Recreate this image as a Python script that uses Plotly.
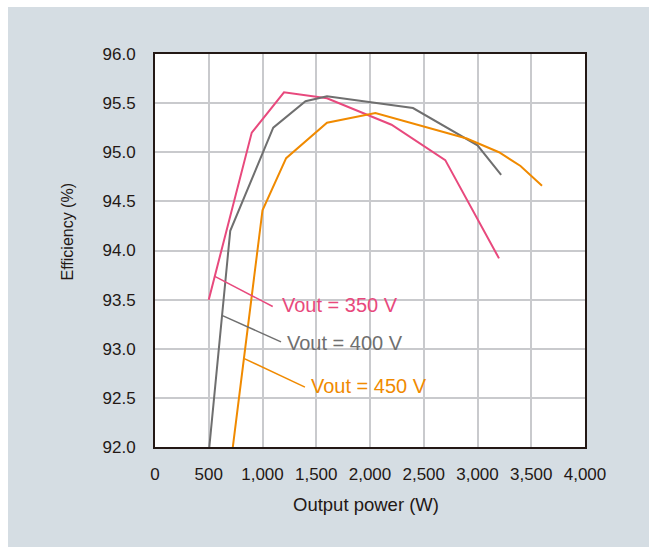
import plotly.graph_objects as go

# Data
x_350 = [500, 900, 1200, 1600, 2200, 2700, 3200]
y_350 = [93.5, 95.2, 95.61, 95.55, 95.28, 94.92, 93.92]

x_400 = [500, 700, 1100, 1400, 1600, 2400, 3000, 3220]
y_400 = [91.94, 94.2, 95.25, 95.52, 95.57, 95.45, 95.07, 94.77]

x_450 = [700, 1000, 1220, 1600, 2050, 2400, 2900, 3200, 3400, 3600]
y_450 = [91.79, 94.41, 94.94, 95.30, 95.40, 95.29, 95.14, 95.0, 94.86, 94.66]

series_names = ["Vout = 350 V", "Vout = 400 V", "Vout = 450 V"]
series_colors = ["#e8497d", "#6f6f6f", "#f08a00"]

# leader line endpoints (data units) and label anchors
leader_start = [(552, 93.74), (623, 93.34), (831, 92.90)]
leader_end = [(1095, 93.43), (1172, 93.07), (1395, 92.61)]
label_pos = [(1160, 93.445), (1212, 93.06), (1437, 92.62)]

x_ticks = [0, 500, 1000, 1500, 2000, 2500, 3000, 3500, 4000]
x_tick_text = ["0", "500", "1,000", "1,500", "2,000", "2,500", "3,000", "3,500", "4,000"]
y_ticks = [92.0, 92.5, 93.0, 93.5, 94.0, 94.5, 95.0, 95.5, 96.0]

FONT = "Liberation Sans, Arial, sans-serif"
TXT = "#231815"
BG = "#d5dde3"

fig = go.Figure()
for xs, ys, name, col in zip([x_350, x_400, x_450], [y_350, y_400, y_450], series_names, series_colors):
    fig.add_trace(go.Scatter(x=xs, y=ys, mode="lines", name=name,
                             line=dict(color=col, width=2), showlegend=False))

shapes = [
    dict(type="rect", xref="paper", yref="paper", x0=-1, x1=2, y0=(447 - 7) / 393, y1=2,
         fillcolor="white", line=dict(width=0), layer="below"),
    dict(type="rect", xref="paper", yref="paper", x0=-1, x1=(8 - 155) / 430, y0=-1, y1=2,
         fillcolor="white", line=dict(width=0), layer="below"),
]
for (x0, y0), (x1, y1), col in zip(leader_start, leader_end, series_colors):
    shapes.append(dict(type="line", xref="x", yref="y", x0=x0, y0=y0, x1=x1, y1=y1,
                       line=dict(color=col, width=1.5)))

annotations = []
for (lx, ly), name, col in zip(label_pos, series_names, series_colors):
    annotations.append(dict(x=lx, y=ly, xref="x", yref="y", text=name, showarrow=False,
                            xanchor="left", yanchor="middle",
                            font=dict(family=FONT, size=20, color=col)))
annotations.append(dict(x=(366 - 155) / 430, y=(447 - 505) / 393, xref="paper", yref="paper",
                        text="Output power (W)", showarrow=False, xanchor="center", yanchor="middle",
                        font=dict(family=FONT, size=18.5, color=TXT)))
annotations.append(dict(x=(67 - 155) / 430, y=(447 - 231.5) / 393, xref="paper", yref="paper",
                        text="Efficiency (%)", showarrow=False, textangle=-90,
                        xanchor="center", yanchor="middle",
                        font=dict(family=FONT, size=16, color=TXT)))

fig.update_layout(
    width=649, height=547,
    margin=dict(l=155, r=64, t=54, b=100),
    paper_bgcolor=BG, plot_bgcolor="white",
    font=dict(family=FONT, size=16, color=TXT),
    shapes=shapes, annotations=annotations,
    xaxis=dict(range=[0, 4000], tickvals=x_ticks, ticktext=x_tick_text,
               showgrid=True, gridcolor="#c9cacd", gridwidth=1.5,
               showline=True, linecolor=TXT, linewidth=2, mirror=True,
               ticks="", ticklabelstandoff=11, zeroline=False,
               tickfont=dict(size=17, color=TXT)),
    yaxis=dict(range=[92, 96], tickvals=y_ticks, tickformat=".1f",
               showgrid=True, gridcolor="#c9cacd", gridwidth=1.5,
               showline=True, linecolor=TXT, linewidth=2, mirror=True,
               ticks="", ticklabelstandoff=14, zeroline=False,
               tickfont=dict(size=17, color=TXT)),
)

fig.write_html("out.html")
